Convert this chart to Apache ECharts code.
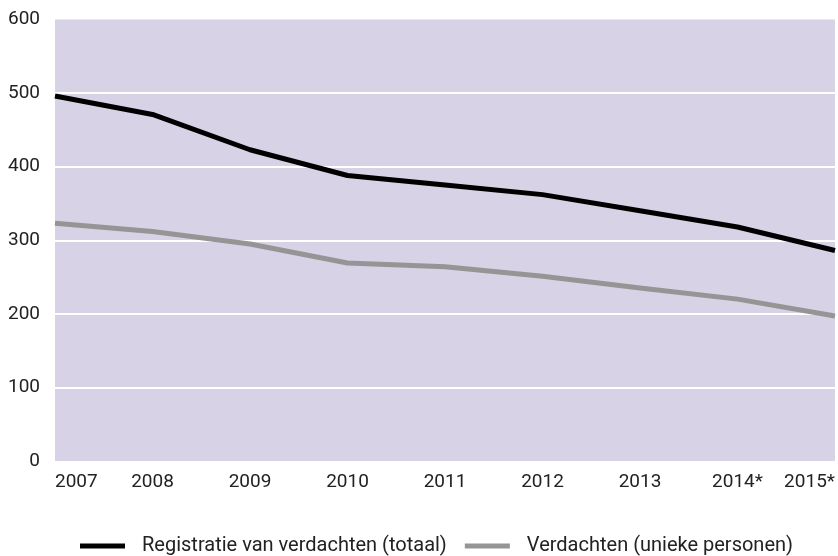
<!DOCTYPE html>
<html>
<head>
<meta charset="utf-8">
<script src="https://cdn.jsdelivr.net/npm/echarts@6/dist/echarts.min.js"></script>
<style>
html,body{margin:0;padding:0;background:#fff;}
#chart{width:838px;height:556px;}
</style>
</head>
<body>
<div id="chart"></div>
<script>
const years = ['2007','2008','2009','2010','2011','2012','2013','2014*','2015*'];
const registratieTotaal = [496, 471, 423, 388, 375, 362, 340, 318, 286];
const uniekePersonen = [323, 312, 295, 269, 264, 251, 235, 220, 197];
const seriesNames = ['Registratie van verdachten (totaal)', 'Verdachten (unieke personen)'];

const chart = echarts.init(document.getElementById('chart'), null, {renderer:'canvas'});
const font = 'Roboto, "Liberation Sans", sans-serif';
chart.setOption({
  animation:false,
  textStyle:{fontFamily:font},
  grid:{left:55, right:0, top:19.5, bottom:95, show:true, backgroundColor:'#d7d2e6', borderWidth:0, containLabel:false},
  legend:{
    left:75, top:531, itemWidth:45, itemHeight:5, itemGap:18,
    icon:'rect',
    textStyle:{fontSize:20, color:'#222', fontFamily:font, padding:[0,0,0,12]},
    data:[
      {name:seriesNames[0], itemStyle:{color:'#000'}},
      {name:seriesNames[1], itemStyle:{color:'#959595'}}
    ]
  },
  xAxis:{
    type:'category', boundaryGap:false, data:years,
    axisLine:{show:false}, axisTick:{show:false},
    axisLabel:{fontSize:19, color:'#222', margin:12, alignMinLabel:'left', alignMaxLabel:'right', interval:0, fontFamily:font},
    splitLine:{show:false}
  },
  yAxis:{
    type:'value', min:0, max:600, interval:100,
    axisLine:{show:false}, axisTick:{show:false},
    axisLabel:{fontSize:19, color:'#222', margin:15, fontFamily:font},
    splitLine:{show:true, showMinLine:false, showMaxLine:false, lineStyle:{color:'#ffffff', width:2}}
  },
  series:[
    {name:seriesNames[0], type:'line', data:registratieTotaal, showSymbol:false, symbol:'none',
     lineStyle:{color:'#000', width:5, join:'round'}, itemStyle:{color:'#000'}, z:3},
    {name:seriesNames[1], type:'line', data:uniekePersonen, showSymbol:false, symbol:'none',
     lineStyle:{color:'#959595', width:5, join:'round'}, itemStyle:{color:'#959595'}, z:2}
  ]
});
</script>
</body>
</html>
